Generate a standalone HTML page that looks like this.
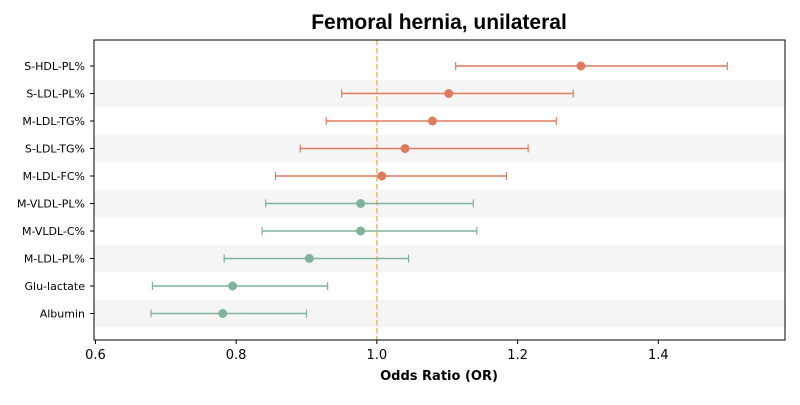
<!DOCTYPE html>
<html><head><meta charset="utf-8"><style>
body{margin:0;background:#fff;font-family:"Liberation Sans","DejaVu Sans",sans-serif}
svg text{font-family:"DejaVu Sans","Liberation Sans",sans-serif}
</style></head><body>
<svg id="chart" width="800" height="400" xmlns="http://www.w3.org/2000/svg"></svg>
<script>
const labels=["S-HDL-PL%","S-LDL-PL%","M-LDL-TG%","S-LDL-TG%","M-LDL-FC%","M-VLDL-PL%","M-VLDL-C%","M-LDL-PL%","Glu-lactate","Albumin"];
const orValues=[1.290,1.102,1.079,1.040,1.007,0.977,0.977,0.904,0.795,0.781];
const ciLow=[1.112,0.950,0.928,0.891,0.856,0.842,0.837,0.783,0.681,0.679];
const ciHigh=[1.498,1.279,1.255,1.215,1.184,1.137,1.142,1.045,0.930,0.900];
const xTicks=[0.6,0.8,1.0,1.2,1.4];
const refLine=1.0;
const svg=document.getElementById('chart');
const NS='http://www.w3.org/2000/svg';
const L=94,R=785,T=40,B=340,x0=0.598,x1=1.58;
const X=v=>L+(v-x0)/(x1-x0)*(R-L);
const Y=i=>T+26+27.5*i;
function mk(t,a,p){const e=document.createElementNS(NS,t);for(const k in a)e.setAttribute(k,a[k]);(p||svg).appendChild(e);return e;}
labels.forEach((l,i)=>{if(i%2==1){const s=mk('rect',{x:L,y:Y(i)-13.75,width:R-L,height:27.5,fill:'#f5f5f5'});

}});
const rl=mk('line',{x1:X(refLine),x2:X(refLine),y1:T,y2:B,stroke:'#f0c27f','stroke-width':1.8,'stroke-dasharray':'5.5,2.5'});


labels.forEach((l,i)=>{
 const c=orValues[i]>=1?'#e07a5f':'#81b29a';const y=Y(i);
 const g=mk('g',{});
 
 
 mk('line',{x1:X(ciLow[i]),x2:X(ciHigh[i]),y1:y,y2:y,stroke:c,'stroke-width':1.5},g);
 mk('line',{x1:X(ciLow[i]),x2:X(ciLow[i]),y1:y-4,y2:y+4,stroke:c,'stroke-width':1.2},g);
 mk('line',{x1:X(ciHigh[i]),x2:X(ciHigh[i]),y1:y-4,y2:y+4,stroke:c,'stroke-width':1.2},g);
 mk('circle',{cx:X(orValues[i]),cy:y,r:4.5,fill:c},g);
 mk('line',{x1:L-4,x2:L,y1:y,y2:y,stroke:'#000'});
 const t=mk('text',{x:L-9,y:y+4,'text-anchor':'end','font-size':11});t.textContent=l;
 
 
});
const fr=mk('rect',{x:L,y:T,width:R-L,height:B-T,fill:'none',stroke:'#000','stroke-width':1});


xTicks.forEach(v=>{mk('line',{x1:X(v),x2:X(v),y1:B,y2:B+4,stroke:'#000'});
 const t=mk('text',{x:X(v),y:B+19,'text-anchor':'middle','font-size':13});t.textContent=v.toFixed(1);
 
 });
const xt=mk('text',{x:439,y:380,'text-anchor':'middle','font-size':13,'font-weight':'bold'});xt.textContent='Odds Ratio (OR)';


const tt=mk('text',{x:439,y:29,'text-anchor':'middle','font-size':21,'font-weight':'bold','style':'font-family:"Liberation Sans",sans-serif'});tt.textContent='Femoral hernia, unilateral';


</script>
</body></html>
